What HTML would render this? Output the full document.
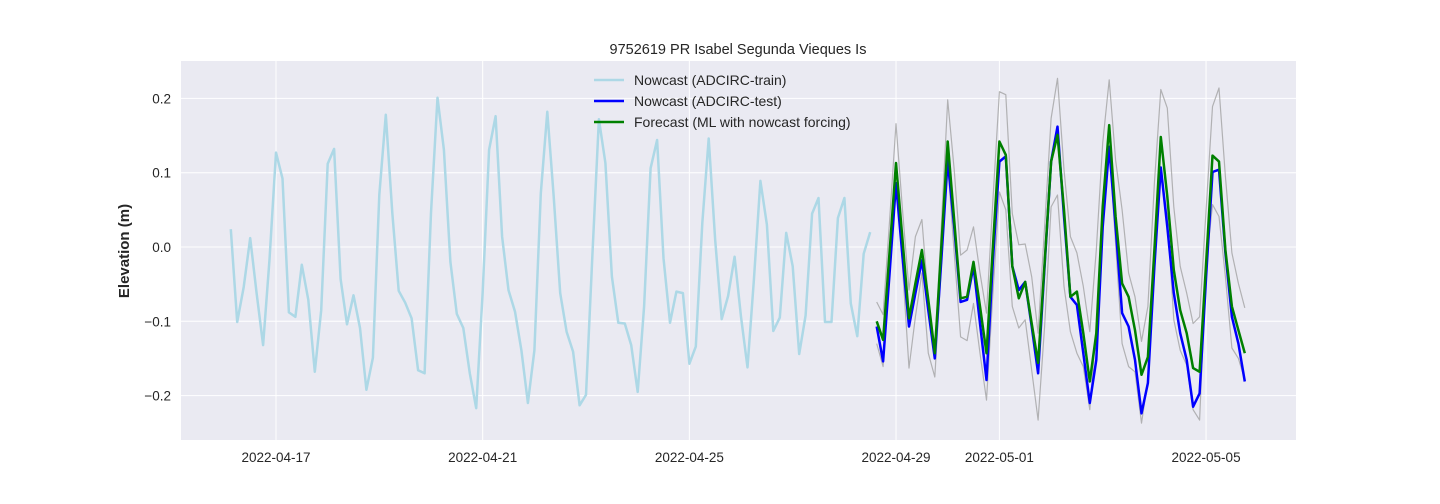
<!DOCTYPE html>
<html><head><meta charset="utf-8"><style>
body{margin:0;background:#fff;}
svg{display:block;font-family:"Liberation Sans","DejaVu Sans",sans-serif;}
</style></head><body>
<svg id="chart" width="1440" height="504">
<rect x="181" y="61" width="1115" height="379" fill="#eaeaf2"/>
<g id="grid"></g>
<g id="series"></g>
<g id="ticks" font-size="13.5" fill="#262626"></g>
<text x="738" y="54" text-anchor="middle" font-size="14.5" fill="#262626">9752619 PR Isabel Segunda Vieques Is</text>
<text transform="translate(129,251) rotate(-90)" text-anchor="middle" font-size="15" font-weight="bold" fill="#262626">Elevation (m)</text>
<g font-size="14" fill="#262626">
<g><line x1="594" y1="80" x2="624" y2="80" stroke="#add8e6" stroke-width="2.5"/><text x="634" y="85">Nowcast (ADCIRC-train)</text></g>
<g><line x1="594" y1="101" x2="624" y2="101" stroke="#0000ff" stroke-width="2.5"/><text x="634" y="106">Nowcast (ADCIRC-test)</text></g>
<g><line x1="594" y1="122" x2="624" y2="122" stroke="#008000" stroke-width="2.5"/><text x="634" y="127">Forecast (ML with nowcast forcing)</text></g>
</g>
</svg>
<script>
const trainStart = 16.125;
const testStart = 28.625;
const stepDays = 0.125;
const trainValues = [0.024,-0.101,-0.054,0.012,-0.062,-0.132,-0.017,0.127,0.092,-0.088,-0.094,-0.024,-0.071,-0.168,-0.085,0.112,0.132,-0.043,-0.104,-0.065,-0.109,-0.192,-0.149,0.070,0.178,0.046,-0.059,-0.075,-0.096,-0.166,-0.170,0.046,0.201,
0.131,-0.020,-0.090,-0.109,-0.170,-0.217,-0.060,0.131,0.176,0.014,-0.058,-0.087,-0.139,-0.210,-0.139,0.072,0.182,0.068,-0.062,-0.114,-0.141,-0.213,-0.199,-0.008,0.172,0.113,-0.040,-0.102,-0.103,-0.132,-0.195,-0.080,
0.106,0.144,-0.015,-0.102,-0.060,-0.062,-0.157,-0.134,0.032,0.146,0.009,-0.097,-0.066,-0.013,-0.094,-0.162,-0.044,0.089,0.030,-0.113,-0.095,0.019,-0.026,-0.144,-0.092,0.045,0.066,-0.101,-0.101,0.039,0.066,-0.076,-0.120,-0.009,0.020];
const testValues = [-0.107,-0.154,-0.035,0.086,-0.013,-0.107,-0.062,-0.018,-0.085,-0.150,-0.018,0.117,0.027,-0.074,-0.071,-0.026,-0.103,-0.179,-0.018,0.115,
0.122,-0.026,-0.058,-0.047,-0.107,-0.170,-0.026,0.115,0.162,0.041,-0.067,-0.078,-0.143,-0.210,-0.152,0.027,0.135,0.027,-0.089,
-0.107,-0.152,-0.224,-0.183,-0.026,0.107,0.027,-0.062,-0.116,-0.152,-0.215,-0.197,-0.040,0.101,0.104,-0.008,-0.094,-0.130,-0.181];
const forecastValues = [-0.100,-0.125,-0.006,0.113,0.010,-0.096,-0.049,-0.004,-0.071,-0.143,0.000,0.142,0.036,-0.069,-0.067,-0.020,-0.080,-0.143,0.000,0.142,
0.124,-0.026,-0.069,-0.047,-0.103,-0.156,-0.022,0.115,0.151,0.050,-0.067,-0.060,-0.116,-0.181,-0.116,0.054,0.164,0.041,-0.049,
-0.067,-0.112,-0.172,-0.148,-0.004,0.148,0.068,-0.031,-0.085,-0.116,-0.163,-0.168,-0.022,0.123,0.115,-0.004,-0.080,-0.112,-0.143];
const upperValues = [-0.074,-0.091,0.036,0.166,0.050,-0.058,0.014,0.037,-0.071,-0.138,0.027,0.198,0.104,-0.011,-0.004,0.027,-0.035,-0.089,0.063,0.209,
0.205,0.045,0.003,0.004,-0.040,-0.116,0.027,0.173,0.227,0.104,0.014,-0.008,-0.053,-0.114,-0.004,0.140,0.225,0.117,0.050,
-0.035,-0.067,-0.127,-0.080,0.086,0.212,0.187,0.054,-0.026,-0.062,-0.103,-0.094,0.050,0.189,0.214,0.095,-0.008,-0.049,-0.082];
const lowerValues = [-0.130,-0.161,-0.026,0.108,-0.026,-0.163,-0.094,-0.035,-0.143,-0.175,-0.026,0.113,-0.008,-0.121,-0.126,-0.076,-0.143,-0.206,-0.062,0.074,
0.050,-0.080,-0.109,-0.098,-0.166,-0.233,-0.107,0.054,0.070,-0.053,-0.114,-0.143,-0.161,-0.219,-0.107,0.027,0.135,0.005,-0.130,
-0.161,-0.168,-0.237,-0.179,-0.008,0.104,0.041,-0.098,-0.139,-0.159,-0.219,-0.233,-0.026,0.057,0.041,-0.040,-0.136,-0.150,-0.179];
const xTickDays = [17,21,25,29,31,35];
const xTickLabels = ["2022-04-17","2022-04-21","2022-04-25","2022-04-29","2022-05-01","2022-05-05"];
const yTicks = [-0.2,-0.1,0.0,0.1,0.2];

const NS="http://www.w3.org/2000/svg";
function xs(d){return 276+(d-17)*51.67;}
function ys(v){return 247-v*743;}
function mk(tag,attrs,parent){const e=document.createElementNS(NS,tag);for(const k in attrs)e.setAttribute(k,attrs[k]);parent.appendChild(e);return e;}
const grid=document.getElementById('grid'),ticks=document.getElementById('ticks'),series=document.getElementById('series');
xTickDays.forEach((d,i)=>{
  const l=mk('line',{x1:xs(d),x2:xs(d),y1:61,y2:440,stroke:'#fff','stroke-width':1},grid);
  
  
  const t=mk('text',{x:xs(d),y:462,'text-anchor':'middle'},ticks);
  t.textContent=xTickLabels[i];
  
  
});
yTicks.forEach(v=>{
  const l=mk('line',{x1:181,x2:1296,y1:ys(v),y2:ys(v),stroke:'#fff','stroke-width':1},grid);
  
  
  const t=mk('text',{x:171,y:ys(v)+5,'text-anchor':'end'},ticks);
  t.textContent=(v<0?'\u2212':'')+Math.abs(v).toFixed(1);
  
  
});
function pts(start,vals){return vals.map((v,i)=>xs(start+i*stepDays).toFixed(1)+','+ys(v).toFixed(1)).join(' ');}
function line(start,vals,color,w,op,name){
  const p=mk('polyline',{points:pts(start,vals),fill:'none',stroke:color,'stroke-width':w,'stroke-opacity':op,'stroke-linejoin':'round'},series);
  
  
}
line(trainStart,trainValues,'#add8e6',2.5,1,'train-line');
line(testStart,upperValues,'#999',1.2,0.7,'upper-bound-line');
line(testStart,lowerValues,'#999',1.2,0.7,'lower-bound-line');
line(testStart,testValues,'#0000ff',2.5,1,'test-line');
line(testStart,forecastValues,'#008000',2.5,1,'forecast-line');
</script>
</body></html>
